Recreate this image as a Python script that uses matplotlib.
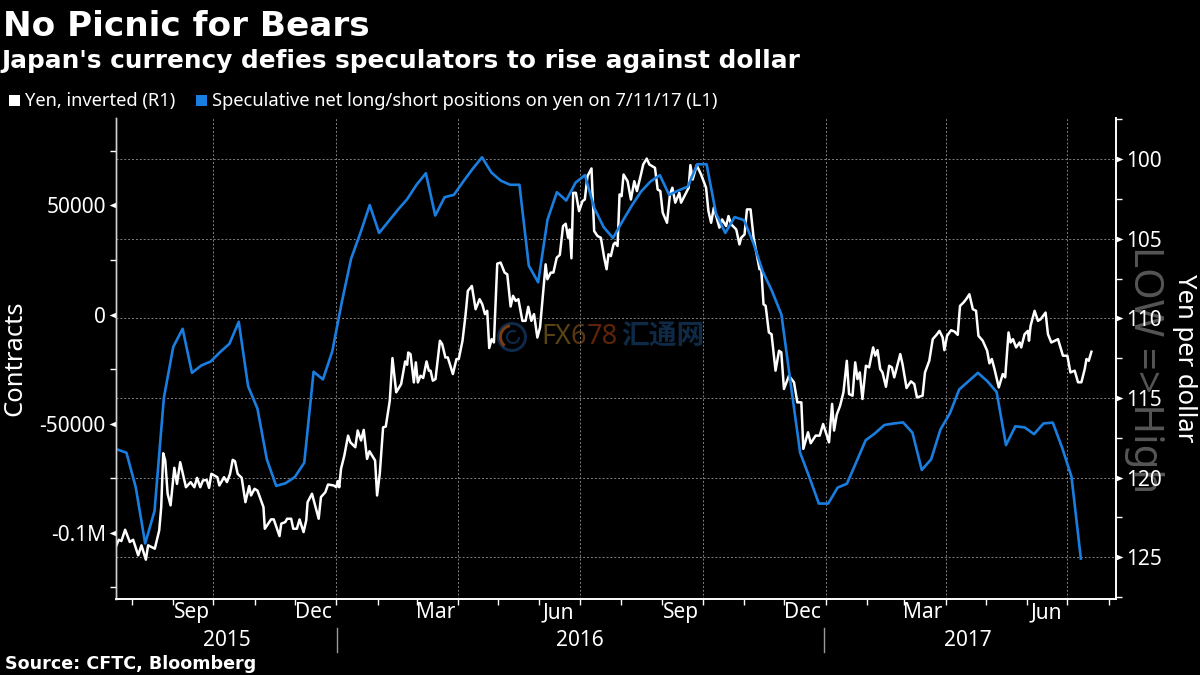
import numpy as np
import pandas as pd
import matplotlib
matplotlib.use('Agg')
import matplotlib.pyplot as plt
from matplotlib.patches import Rectangle, Wedge
from matplotlib.path import Path

# speculative net positions, weekly CFTC readings (contracts)
positions_start = '2015-07-21'
positions = [
    -61800, -63300, -79300, -104900, -90000, -38100, -14800, -6500, -26700, -23300,
    -21500, -17200, -13400, -3300, -32800, -43100, -66300, -78500, -77300, -74400,
    -67900, -26200, -29700, -16800, 5400, 25500, 37400, 50200, 37400, 42700,
    48000, 52900, 59500, 64800, 45400, 53800, 54900, 61000, 66800, 72100,
    65100, 61400, 59500, 59500, 22400, 14800, 43500, 56100, 52300, 60500,
    63900, 48800, 40100, 35100, 42700, 49900, 56400, 61000, 63900, 54900,
    56900, 58700, 68900, 68900, 46500, 37400, 44700, 43300, 32800, 19800,
    10700, 0, -32000, -63300, -74700, -86600, -86600, -79300, -77500, -67600,
    -57600, -54400, -50600, -49900, -49400, -54100, -71200, -66300, -52600, -45300,
    -34300, -30500, -26700, -30500, -35500, -59800, -51200, -51700, -54800, -49900,
    -49500, -61000, -74300, -111800,
]

# yen per dollar, days counted from yen_start
yen_start = '2015-07-20'
yen_days = [
    0.5, 2.2, 4.2, 7, 10.5, 13, 16.8, 19.2, 22.5, 24.2, 29.2, 32.5, 34, 35.5, 37, 38.8, 41, 43.8,
    45.8, 48.2, 52.5, 56, 58.8, 60.8, 63.2, 65.2, 68, 69.8, 71.5, 76, 77.5, 81, 83.2, 85.5, 87.5,
    89.2, 91.2, 94.2, 97, 99.8, 101.2, 103.8, 106, 110.5, 111.5, 116.2, 118.2, 122.5, 123.8, 126.8,
    128.2, 131.2, 132.8, 135.5, 137.5, 140.5, 142.5, 143.5, 146.8, 151.8, 153.5, 156.8, 158.8, 163,
    165, 166, 167.2, 168.5, 171, 173.8, 175.5, 179.2, 181, 183.5, 185.5, 188, 189.8, 194, 195.5,
    197.5, 200, 202, 205, 207, 209.8, 213.5, 216.5, 218, 218.8, 220.5, 223, 224.5, 226, 228, 230,
    232.5, 234.2, 235.5, 237.2, 239.2, 242.5,
    244.2, 246.6, 248.4, 252.2, 254.9, 256.6, 259.4, 261.6, 263.4, 266.4, 269.2, 272.2, 274.2, 276.2,
    277.9, 279.4, 281.2, 282.9, 285.4, 287.9, 290.9, 292.9, 295.4, 297.2, 299.2, 301.2, 304.2, 306.6,
    308.6, 310.9, 312.9, 315.4, 317.4, 319.2, 321.6, 322.9, 325.4, 327.4, 329.9, 332.2, 334.6, 336.6,
    338.4, 339.6, 340.9, 342.2, 344.2, 346.6, 349.2, 350.9, 352.9, 355.9, 357.9, 360.4, 362.9, 365.4,
    367.2, 368.6, 370.4, 372.4, 373.6, 375.4, 376.9, 378.4, 379.9, 382.9, 385.4, 387.9, 389.9, 392.9,
    394.6, 397.2, 399.2, 403.4, 405.4, 407.4, 409.2, 412.4, 414.6, 416.4, 418.6, 421.6, 422.9, 425.4,
    428.6, 429.9, 431.6, 434.6, 437.9, 441.6, 443.4, 445.4, 447.4, 449.2, 451.6, 453.6, 456.6, 458.4,
    460.4, 464.2, 466.6, 467.9, 470.4, 472.2, 474.9, 477.2, 481.6, 482.9, 484.6, 486.2,
    488.6, 490.6, 493.6, 496.2, 497.9, 499.9, 503.6, 507.4, 509.9, 512.9, 514.4, 517.9, 519.9, 523.6,
    526.6, 529.2, 533.6, 535.9, 537.4, 539.4, 541.9, 544.4, 546.9, 548.6, 551.2, 553.2, 554.9, 556.6,
    558.6, 561.2, 563.6, 566.6, 568.2, 569.9, 571.9, 573.6, 576.2, 578.6, 580.6, 582.4, 586.9, 588.6,
    591.6, 594.9, 597.4, 599.4, 603.6, 605.4, 608.6, 611.2, 614.4, 616.2, 618.6, 619.9, 621.9, 624.9,
    627.4, 629.9, 631.6, 634.2, 636.2, 638.6, 641.2, 643.6, 645.4, 648.6, 651.9, 653.6, 655.4, 657.4,
    660.6, 663.6, 665.4, 667.9, 669.4, 671.2, 673.6, 676.2, 677.4, 679.9, 682.4, 683.2, 684.4, 687.4,
    689.9, 691.9, 695.6, 697.4, 699.9, 704.9, 708.6, 711.9, 714.2, 717.4, 719.9, 722.4, 724.9, 726.2,
    727.9, 729.9,
]
yen_values = [
    124.25, 123.90, 123.98, 123.27, 124.04, 123.90, 124.88, 124.25, 125.15, 124.25, 124.46, 123.31,
    121.85, 118.47, 118.92, 121.01, 121.74, 119.38, 120.39, 119.03, 120.60, 120.28, 120.60, 120.01,
    120.60, 120.18, 120.14, 120.64, 119.76, 119.97, 120.49, 119.97, 120.28, 119.76, 118.88, 118.97,
    119.76, 120.01, 121.54, 120.53, 121.12, 120.70, 120.81, 121.85, 123.21, 122.62, 122.62, 123.67,
    122.89, 122.79, 122.58, 122.58, 123.21, 123.21, 122.62, 123.42, 122.68, 121.54, 121.01, 122.58,
    121.22, 120.91, 120.43, 120.49, 120.60, 120.22, 120.60, 119.45, 118.61, 117.36, 117.78, 118.09,
    117.04, 117.67, 117.00, 118.82, 118.34, 118.92, 121.12, 119.76, 116.84, 116.79, 115.16, 112.49,
    114.64, 114.12, 112.70, 112.91, 112.14, 112.24, 114.02, 112.76, 114.02, 113.60, 113.74, 112.70,
    113.28, 113.28, 113.91, 113.81, 111.40,
    111.61, 112.45, 112.45, 113.49, 112.55, 112.55, 111.40, 109.84, 108.27, 107.96, 109.42, 108.79,
    109.11, 109.73, 109.52, 111.86, 111.30, 111.51, 106.56, 106.49, 107.12, 107.23, 109.25, 108.58,
    108.90, 108.79, 110.15, 110.15, 109.27, 110.15, 109.73, 111.20, 110.57, 108.90, 106.60, 107.54,
    107.12, 107.12, 106.18, 106.01, 104.20, 104.05, 104.93, 104.41, 106.22, 102.11, 102.11, 103.26,
    102.63, 102.53, 101.06, 100.58, 104.51, 104.82, 104.93, 106.18, 106.91, 105.97, 106.08, 105.35,
    105.24, 105.45, 102.21, 102.32, 100.96, 101.38, 102.53, 101.38, 102.00, 100.96, 100.33, 99.96,
    100.33, 100.54, 101.90, 102.00, 103.36, 103.99, 102.21, 101.79, 102.73, 102.11, 102.73, 102.32,
    101.79, 100.37, 101.27, 100.37, 100.96, 101.79, 103.26, 103.99, 103.05, 103.57, 104.30, 103.78,
    104.20, 103.57, 104.09, 104.41, 105.35, 104.93, 104.72, 103.15, 103.15, 104.93, 106.91, 106.91,
    109.11, 109.21,
    110.88, 110.99, 113.28, 112.03, 112.13, 114.43, 113.60, 114.01, 115.27, 115.27, 118.19, 117.15,
    117.84, 117.36, 117.36, 116.63, 117.78, 115.37, 117.04, 116.04, 115.48, 114.64, 112.66, 114.75,
    114.85, 112.76, 113.81, 113.39, 115.06, 112.97, 113.07, 111.82, 112.34, 111.99, 113.18, 113.39,
    114.29, 112.97, 113.07, 113.70, 112.24, 112.87, 114.37, 113.95, 114.12, 114.96, 114.85, 113.39,
    112.66, 111.30, 110.99, 110.78, 111.19, 111.99, 111.09, 110.74, 110.82, 111.03, 109.21, 109.00,
    108.79, 108.48, 109.42, 109.52, 111.09, 111.40, 112.03, 112.82, 112.55, 113.18, 114.33, 113.49,
    113.70, 110.88, 111.51, 111.30, 111.82, 111.51, 111.82, 110.99, 110.78, 111.40, 110.46, 109.52,
    110.15, 110.05, 109.63, 110.99, 111.51, 111.30, 112.34, 112.34, 113.39, 113.28, 114.01, 114.01,
    113.18, 112.55, 112.66, 112.09,
]

left_ticks = [50000, 0, -50000, -100000]
left_labels = ['50000', '0', '-50000', '-0.1M']
left_minor = [75000, 25000, -25000, -75000, -125000]
right_ticks = [100, 105, 110, 115, 120, 125]
right_minor = [97.5, 102.5, 107.5, 112.5, 117.5, 122.5, 127.5]
month_labels = ['Sep', 'Dec', 'Mar', 'Jun', 'Sep', 'Dec', 'Mar', 'Jun']
month_mids = ['2015-09-15', '2015-12-15', '2016-03-15', '2016-06-15',
              '2016-09-15', '2016-12-15', '2017-03-15', '2017-06-15']
quarter_starts = ['2015-10-01', '2016-01-01', '2016-04-01', '2016-07-01',
                  '2016-10-01', '2017-01-01', '2017-04-01', '2017-07-01']
years = ['2015', '2016', '2017']

WHITE = '#ffffff'
BLUE = '#1a7ee0'
GRID = '#7f7f7f'
MAIN_FONT = 'Noto Sans'
HEAD_FONT = 'DejaVu Sans'

# triangle tick with its base on the axis line
TRI_RIGHT = Path([(0, -0.42), (1, 0), (0, 0.42), (0, -0.42)])
TRI_LEFT = Path([(0, -0.42), (-1, 0), (0, 0.42), (0, -0.42)])

fig = plt.figure(figsize=(12, 6.75), dpi=100, facecolor='black')

# page layer in pixel coordinates, sits behind the chart
page = fig.add_axes([0, 0, 1, 1], zorder=-1)
page.set_xlim(0, 1200)
page.set_ylim(675, 0)
page.axis('off')

ax = fig.add_axes([115.5 / 1200, 1 - 599.3 / 675, 1000.5 / 1200, 481.3 / 675], zorder=1)
ax.patch.set_visible(False)
ax2 = ax.twinx()
ax2.patch.set_visible(False)

yen_x = pd.Timestamp(yen_start) + pd.to_timedelta(yen_days, unit='D')
pos_x = pd.date_range(positions_start, periods=len(positions), freq='7D')

ax.plot(yen_x, yen_values, color=WHITE, lw=1.8, solid_joinstyle='round')
ax2.plot(pos_x, positions, color=BLUE, lw=1.9, solid_joinstyle='round')

ax.set_xlim(pd.Timestamp(yen_start) - pd.Timedelta(days=0.2), pd.Timestamp(yen_start) + pd.Timedelta(days=748.3))
ax.set_ylim(127.64, 97.41)
ax2.set_ylim(-130480, 90100)

# right axis carries the yen, left one the contracts
ax.yaxis.tick_right()
ax.yaxis.set_label_position('right')
ax2.yaxis.tick_left()
ax2.yaxis.set_label_position('left')

ax.set_yticks(right_ticks)
ax.set_yticks(right_minor, minor=True)
ax2.set_yticks(left_ticks, left_labels)
ax2.set_yticks(left_minor, minor=True)

ax.tick_params(axis='y', which='major', colors=WHITE, labelsize=15, length=0, pad=7)
ax.tick_params(axis='y', which='minor', colors=WHITE, length=4, width=1)
ax2.tick_params(axis='y', which='major', colors=WHITE, labelsize=15, length=0, pad=7)
ax2.tick_params(axis='y', which='minor', colors=WHITE, length=4, width=1)
for t in ax.yaxis.get_major_ticks():
    t.tick2line.set_visible(True)
    t.tick2line.set_marker(TRI_RIGHT)
    t.tick2line.set_markersize(10)
    t.tick2line.set_markerfacecolor(WHITE)
    t.tick2line.set_markeredgewidth(0)
for t in ax2.yaxis.get_major_ticks():
    t.tick1line.set_visible(True)
    t.tick1line.set_marker(TRI_LEFT)
    t.tick1line.set_markersize(10)
    t.tick1line.set_markerfacecolor(WHITE)
    t.tick1line.set_markeredgewidth(0)
for lab in ax.get_yticklabels() + ax2.get_yticklabels():
    lab.set_family(MAIN_FONT)

ax.set_xticks(pd.to_datetime(quarter_starts))
ax.set_xticks(pd.date_range('2015-08-01', '2017-08-01', freq='MS'), minor=True)
ax.tick_params(axis='x', which='both', colors=WHITE, labelbottom=False, length=4, width=1)

ax.grid(True, which='major', color=GRID, lw=0.7, ls=(0, (2, 2)))
ax.set_axisbelow(True)

for a in (ax, ax2):
    a.spines['top'].set_visible(False)
    a.spines['left'].set_color('#cfcfcf')
    a.spines['right'].set_color(WHITE)
    a.spines['bottom'].set_color(WHITE)
    a.spines['left'].set_linewidth(1)
    a.spines['right'].set_linewidth(1.2)
    a.spines['bottom'].set_linewidth(1.2)

trans = ax.get_xaxis_transform()
for lab, mid in zip(month_labels, month_mids):
    ax.text(pd.Timestamp(mid), -0.0275, lab, transform=trans, color=WHITE, fontsize=15,
            family=MAIN_FONT, ha='center', va='center', clip_on=False)

# titles
page.text(3, 26, 'No Picnic for Bears', color=WHITE, fontsize=24.7, fontweight='bold',
          family=HEAD_FONT, ha='left', va='center')
page.text(1, 61, "Japan's currency defies speculators to rise against dollar", color=WHITE,
          fontsize=17.8, fontweight='bold', family=HEAD_FONT, ha='left', va='center')

# legend
page.add_patch(Rectangle((9, 95), 11, 11, color=WHITE, lw=0))
page.text(25, 101, 'Yen, inverted (R1)', color=WHITE, fontsize=13.2, family=MAIN_FONT,
          ha='left', va='center')
page.add_patch(Rectangle((196, 95), 11, 11, color=BLUE, lw=0))
page.text(212, 101, 'Speculative net long/short positions on yen on 7/11/17 (L1)', color=WHITE,
          fontsize=13.2, family=MAIN_FONT, ha='left', va='center')

# axis titles
page.text(15, 358, 'Contracts', color=WHITE, fontsize=18.5, family=MAIN_FONT, rotation=90,
          ha='center', va='center')
page.text(1185, 358, 'Yen per dollar', color=WHITE, fontsize=18.5, family=MAIN_FONT, rotation=270,
          ha='center', va='center')
page.text(1144, 370, 'LOW => High', color='#565656', fontsize=29, family=MAIN_FONT, rotation=270,
          ha='center', va='center')

# years and their separators
for lab, xp in zip(years, [227, 580, 968]):
    page.text(xp, 640, lab, color=WHITE, fontsize=15, family=MAIN_FONT, ha='center', va='center')
for xp in [337, 824]:
    page.plot([xp, xp], [628, 652], color='#9a9a9a', lw=1)

page.text(5, 664, 'Source: CFTC, Bloomberg', color=WHITE, fontsize=12.6, fontweight='bold',
          family=HEAD_FONT, ha='left', va='center')

# watermark
page.add_patch(Wedge((512, 337), 15, 0, 360, width=3, color='#0e2a4a', lw=0))
page.add_patch(Wedge((512, 337), 13, 130, 260, width=3, color='#7a3d12', lw=0))
page.add_patch(Wedge((513, 337), 7, 0, 300, width=2, color='#0e2a4a', lw=0))
page.text(541, 337, 'FX', color='#5a4416', fontsize=19.5, fontweight='bold', family=MAIN_FONT,
          ha='left', va='center')
page.text(571, 337, '6', color='#5a3510', fontsize=19.5, fontweight='bold', family=MAIN_FONT,
          ha='left', va='center')
page.text(587, 337, '78', color='#5e2408', fontsize=19.5, fontweight='bold', family=MAIN_FONT,
          ha='left', va='center')
page.text(663, 337, '汇通网', color='#0e2a47', fontsize=20, fontweight='bold',
          family=['Noto Sans CJK SC', 'DejaVu Sans'], ha='center', va='center')

fig.savefig('out.png', dpi=100, facecolor='black')
